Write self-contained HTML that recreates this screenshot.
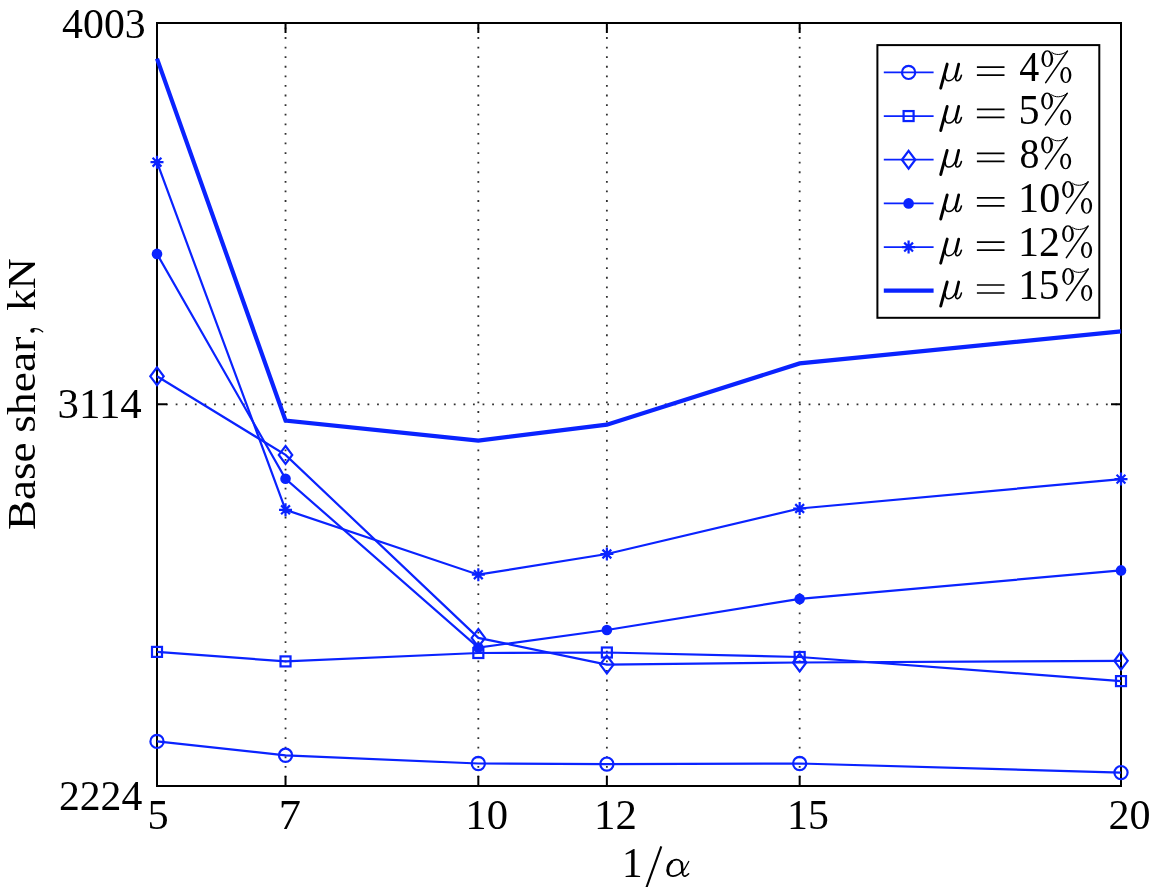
<!DOCTYPE html><html><head><meta charset="utf-8"><style>html,body{margin:0;padding:0;background:#fff;width:1152px;height:887px;overflow:hidden}svg{display:block;will-change:transform}text{font-family:"Liberation Serif",serif;fill:#000}</style></head><body>
<svg width="1152" height="887" viewBox="0 0 1152 887">
<rect x="0" y="0" width="1152" height="887" fill="#fff"/>
<g stroke="#303030" stroke-width="1.8" stroke-dasharray="1.8 7.79" fill="none"><line x1="285.53" y1="786.9" x2="285.53" y2="23.0"/><line x1="478.33" y1="786.9" x2="478.33" y2="23.0"/><line x1="606.87" y1="786.9" x2="606.87" y2="23.0"/><line x1="799.67" y1="786.9" x2="799.67" y2="23.0"/><line x1="156.5" y1="404.3" x2="1121.0" y2="404.3"/></g>
<path d="M285.53 786.0V776.0M285.53 23.0V33.0M478.33 786.0V776.0M478.33 23.0V33.0M606.87 786.0V776.0M606.87 23.0V33.0M799.67 786.0V776.0M799.67 23.0V33.0M157.0 404.3H167.0M1121.0 404.3H1111.0" stroke="#000" stroke-width="2" fill="none"/>
<rect x="157.0" y="23.0" width="964.0" height="763.0" fill="none" stroke="#000" stroke-width="2"/>
<polyline points="157,741.4 285.53,755.3 478.33,763.5 606.87,764.1 799.67,763.5 1121,772.6" fill="none" stroke="#0a23ff" stroke-width="2.2" stroke-linejoin="miter"/>
<circle cx="157" cy="741.4" r="6.6" fill="none" stroke="#0a23ff" stroke-width="2.2"/>
<circle cx="285.53" cy="755.3" r="6.6" fill="none" stroke="#0a23ff" stroke-width="2.2"/>
<circle cx="478.33" cy="763.5" r="6.6" fill="none" stroke="#0a23ff" stroke-width="2.2"/>
<circle cx="606.87" cy="764.1" r="6.6" fill="none" stroke="#0a23ff" stroke-width="2.2"/>
<circle cx="799.67" cy="763.5" r="6.6" fill="none" stroke="#0a23ff" stroke-width="2.2"/>
<circle cx="1121" cy="772.6" r="6.6" fill="none" stroke="#0a23ff" stroke-width="2.2"/>
<polyline points="157,651.9 285.53,661.4 478.33,653 606.87,652.5 799.67,657 1121,681.1" fill="none" stroke="#0a23ff" stroke-width="2.2" stroke-linejoin="miter"/>
<rect x="152" y="646.9" width="10.0" height="10.0" fill="none" stroke="#0a23ff" stroke-width="2.2"/>
<rect x="280.53" y="656.4" width="10.0" height="10.0" fill="none" stroke="#0a23ff" stroke-width="2.2"/>
<rect x="473.33" y="648" width="10.0" height="10.0" fill="none" stroke="#0a23ff" stroke-width="2.2"/>
<rect x="601.87" y="647.5" width="10.0" height="10.0" fill="none" stroke="#0a23ff" stroke-width="2.2"/>
<rect x="794.67" y="652" width="10.0" height="10.0" fill="none" stroke="#0a23ff" stroke-width="2.2"/>
<rect x="1116" y="676.1" width="10.0" height="10.0" fill="none" stroke="#0a23ff" stroke-width="2.2"/>
<polyline points="157,376.3 285.53,454.9 478.33,637.9 606.87,664.6 799.67,662.5 1121,660.8" fill="none" stroke="#0a23ff" stroke-width="2.2" stroke-linejoin="miter"/>
<polygon points="157,367.4 163.7,376.3 157,385.2 150.3,376.3" fill="none" stroke="#0a23ff" stroke-width="2.2"/>
<polygon points="285.53,446 292.23,454.9 285.53,463.8 278.83,454.9" fill="none" stroke="#0a23ff" stroke-width="2.2"/>
<polygon points="478.33,629 485.03,637.9 478.33,646.8 471.63,637.9" fill="none" stroke="#0a23ff" stroke-width="2.2"/>
<polygon points="606.87,655.7 613.57,664.6 606.87,673.5 600.17,664.6" fill="none" stroke="#0a23ff" stroke-width="2.2"/>
<polygon points="799.67,653.6 806.37,662.5 799.67,671.4 792.97,662.5" fill="none" stroke="#0a23ff" stroke-width="2.2"/>
<polygon points="1121,651.9 1127.7,660.8 1121,669.7 1114.3,660.8" fill="none" stroke="#0a23ff" stroke-width="2.2"/>
<polyline points="157,253.9 285.53,478.8 478.33,647.6 606.87,630 799.67,598.9 1121,570.4" fill="none" stroke="#0a23ff" stroke-width="2.2" stroke-linejoin="miter"/>
<circle cx="157" cy="253.9" r="5.3" fill="#0a23ff"/>
<circle cx="285.53" cy="478.8" r="5.3" fill="#0a23ff"/>
<circle cx="478.33" cy="647.6" r="5.3" fill="#0a23ff"/>
<circle cx="606.87" cy="630" r="5.3" fill="#0a23ff"/>
<circle cx="799.67" cy="598.9" r="5.3" fill="#0a23ff"/>
<circle cx="1121" cy="570.4" r="5.3" fill="#0a23ff"/>
<polyline points="157,162.2 285.53,509.8 478.33,574.7 606.87,554 799.67,508.5 1121,479.1" fill="none" stroke="#0a23ff" stroke-width="2.2" stroke-linejoin="miter"/>
<path d="M150.5 162.2H163.5M157 155.7V168.7M152.6 157.8L161.4 166.6M152.6 166.6L161.4 157.8" fill="none" stroke="#0a23ff" stroke-width="2.2"/>
<path d="M279.03 509.8H292.03M285.53 503.3V516.3M281.13 505.4L289.93 514.2M281.13 514.2L289.93 505.4" fill="none" stroke="#0a23ff" stroke-width="2.2"/>
<path d="M471.83 574.7H484.83M478.33 568.2V581.2M473.93 570.3L482.73 579.1M473.93 579.1L482.73 570.3" fill="none" stroke="#0a23ff" stroke-width="2.2"/>
<path d="M600.37 554H613.37M606.87 547.5V560.5M602.47 549.6L611.27 558.4M602.47 558.4L611.27 549.6" fill="none" stroke="#0a23ff" stroke-width="2.2"/>
<path d="M793.17 508.5H806.17M799.67 502V515M795.27 504.1L804.07 512.9M795.27 512.9L804.07 504.1" fill="none" stroke="#0a23ff" stroke-width="2.2"/>
<path d="M1114.5 479.1H1127.5M1121 472.6V485.6M1116.6 474.7L1125.4 483.5M1116.6 483.5L1125.4 474.7" fill="none" stroke="#0a23ff" stroke-width="2.2"/>
<polyline points="157,58.6 285.53,420.5 478.33,440.6 606.87,424.7 799.67,363.4 1121,331.3" fill="none" stroke="#0a23ff" stroke-width="4.2" stroke-linejoin="miter"/>






<rect x="877.4" y="45.1" width="221.9" height="272.7" fill="#fff" stroke="#000" stroke-width="2"/>
<line x1="883.8" y1="72.4" x2="933.6" y2="72.4" stroke="#0a23ff" stroke-width="1.7"/>
<circle cx="908.6" cy="72.4" r="6.6" fill="none" stroke="#0a23ff" stroke-width="2.2"/>
<g transform="translate(0 0.00)" fill="none" stroke="#000" stroke-linecap="round"><path d="M947.2 64.1L940.7 88.2" stroke-width="2.9"/><path d="M945.3 75.8C944.9 79.6 946.8 80.9 948.9 80.8C951.2 80.7 953.4 79 955 76" stroke-width="1.5"/><path d="M958.7 64.1L955.8 76.2" stroke-width="2.8"/><path d="M955.8 76.2C955.2 79.2 955.9 80.8 957.5 80.7C959.4 80.5 960.8 77.6 961.4 75.2" stroke-width="1.6"/></g>
<path d="M976.9 67.10H1004.5M976.9 75.10H1004.5" stroke="#000" stroke-width="1.6"/>
<text transform="translate(1019.25 81.20) scale(1.0000 1.0400)" font-size="40">4</text>
<g transform="translate(1041.40 81.20)"><path fill="#000" fill-rule="evenodd" d="M0.00 -22.55a5.9 8.45 0 1 0 11.80 0a5.9 8.45 0 1 0 -11.80 0ZM2.50 -22.40a3.4 7.35 0 1 0 6.80 0a3.4 7.35 0 1 0 -6.80 0ZM18.90 -6.15a5.55 7.95 0 1 0 11.10 0a5.55 7.95 0 1 0 -11.10 0ZM21.30 -6.00a3.15 6.85 0 1 0 6.30 0a3.15 6.85 0 1 0 -6.30 0Z"/><path d="M26 -30.1L4.3 1.4" stroke="#000" stroke-width="1.6" stroke-linecap="round" fill="none"/><path d="M10.2 -29C13.5 -25.9 20.5 -25.6 26 -30.2" stroke="#000" stroke-width="1.0" fill="none"/></g>
<line x1="883.8" y1="116.06" x2="933.6" y2="116.06" stroke="#0a23ff" stroke-width="1.7"/>
<rect x="903.6" y="111.06" width="10.0" height="10.0" fill="none" stroke="#0a23ff" stroke-width="2.2"/>
<g transform="translate(0 42.30)" fill="none" stroke="#000" stroke-linecap="round"><path d="M947.2 64.1L940.7 88.2" stroke-width="2.9"/><path d="M945.3 75.8C944.9 79.6 946.8 80.9 948.9 80.8C951.2 80.7 953.4 79 955 76" stroke-width="1.5"/><path d="M958.7 64.1L955.8 76.2" stroke-width="2.8"/><path d="M955.8 76.2C955.2 79.2 955.9 80.8 957.5 80.7C959.4 80.5 960.8 77.6 961.4 75.2" stroke-width="1.6"/></g>
<path d="M976.9 109.40H1004.5M976.9 117.40H1004.5" stroke="#000" stroke-width="1.6"/>
<text transform="translate(1018.53 123.54) scale(1.0523 1.0528)" font-size="40">5</text>
<g transform="translate(1041.20 123.50)"><path fill="#000" fill-rule="evenodd" d="M0.00 -22.55a5.9 8.45 0 1 0 11.80 0a5.9 8.45 0 1 0 -11.80 0ZM2.50 -22.40a3.4 7.35 0 1 0 6.80 0a3.4 7.35 0 1 0 -6.80 0ZM18.90 -6.15a5.55 7.95 0 1 0 11.10 0a5.55 7.95 0 1 0 -11.10 0ZM21.30 -6.00a3.15 6.85 0 1 0 6.30 0a3.15 6.85 0 1 0 -6.30 0Z"/><path d="M26 -30.1L4.3 1.4" stroke="#000" stroke-width="1.6" stroke-linecap="round" fill="none"/><path d="M10.2 -29C13.5 -25.9 20.5 -25.6 26 -30.2" stroke="#000" stroke-width="1.0" fill="none"/></g>
<line x1="883.8" y1="159.72" x2="933.6" y2="159.72" stroke="#0a23ff" stroke-width="1.7"/>
<polygon points="908.6,150.82 915.3,159.72 908.6,168.62 901.9,159.72" fill="none" stroke="#0a23ff" stroke-width="2.2"/>
<g transform="translate(0 86.30)" fill="none" stroke="#000" stroke-linecap="round"><path d="M947.2 64.1L940.7 88.2" stroke-width="2.9"/><path d="M945.3 75.8C944.9 79.6 946.8 80.9 948.9 80.8C951.2 80.7 953.4 79 955 76" stroke-width="1.5"/><path d="M958.7 64.1L955.8 76.2" stroke-width="2.8"/><path d="M955.8 76.2C955.2 79.2 955.9 80.8 957.5 80.7C959.4 80.5 960.8 77.6 961.4 75.2" stroke-width="1.6"/></g>
<path d="M976.9 153.40H1004.5M976.9 161.40H1004.5" stroke="#000" stroke-width="1.6"/>
<text transform="translate(1019.41 167.64) scale(0.9941 1.0542)" font-size="40">8</text>
<g transform="translate(1041.20 167.50)"><path fill="#000" fill-rule="evenodd" d="M0.00 -22.55a5.9 8.45 0 1 0 11.80 0a5.9 8.45 0 1 0 -11.80 0ZM2.50 -22.40a3.4 7.35 0 1 0 6.80 0a3.4 7.35 0 1 0 -6.80 0ZM18.90 -6.15a5.55 7.95 0 1 0 11.10 0a5.55 7.95 0 1 0 -11.10 0ZM21.30 -6.00a3.15 6.85 0 1 0 6.30 0a3.15 6.85 0 1 0 -6.30 0Z"/><path d="M26 -30.1L4.3 1.4" stroke="#000" stroke-width="1.6" stroke-linecap="round" fill="none"/><path d="M10.2 -29C13.5 -25.9 20.5 -25.6 26 -30.2" stroke="#000" stroke-width="1.0" fill="none"/></g>
<line x1="883.8" y1="203.38" x2="933.6" y2="203.38" stroke="#0a23ff" stroke-width="1.7"/>
<circle cx="908.6" cy="203.38" r="5.3" fill="#0a23ff"/>
<g transform="translate(0 130.80)" fill="none" stroke="#000" stroke-linecap="round"><path d="M947.2 64.1L940.7 88.2" stroke-width="2.9"/><path d="M945.3 75.8C944.9 79.6 946.8 80.9 948.9 80.8C951.2 80.7 953.4 79 955 76" stroke-width="1.5"/><path d="M958.7 64.1L955.8 76.2" stroke-width="2.8"/><path d="M955.8 76.2C955.2 79.2 955.9 80.8 957.5 80.7C959.4 80.5 960.8 77.6 961.4 75.2" stroke-width="1.6"/></g>
<path d="M976.9 197.90H1004.5M976.9 205.90H1004.5" stroke="#000" stroke-width="1.6"/>
<text transform="translate(1018.00 211.74) scale(1.0571 1.0505)" font-size="40">10</text>
<g transform="translate(1062.10 212.00)"><path fill="#000" fill-rule="evenodd" d="M0.00 -22.55a5.9 8.45 0 1 0 11.80 0a5.9 8.45 0 1 0 -11.80 0ZM2.50 -22.40a3.4 7.35 0 1 0 6.80 0a3.4 7.35 0 1 0 -6.80 0ZM18.90 -6.15a5.55 7.95 0 1 0 11.10 0a5.55 7.95 0 1 0 -11.10 0ZM21.30 -6.00a3.15 6.85 0 1 0 6.30 0a3.15 6.85 0 1 0 -6.30 0Z"/><path d="M26 -30.1L4.3 1.4" stroke="#000" stroke-width="1.6" stroke-linecap="round" fill="none"/><path d="M10.2 -29C13.5 -25.9 20.5 -25.6 26 -30.2" stroke="#000" stroke-width="1.0" fill="none"/></g>
<line x1="883.8" y1="247.04" x2="933.6" y2="247.04" stroke="#0a23ff" stroke-width="1.7"/>
<path d="M902.1 247.04H915.1M908.6 240.54V253.54M904.2 242.64L913 251.44M904.2 251.44L913 242.64" fill="none" stroke="#0a23ff" stroke-width="2.2"/>
<g transform="translate(0 175.00)" fill="none" stroke="#000" stroke-linecap="round"><path d="M947.2 64.1L940.7 88.2" stroke-width="2.9"/><path d="M945.3 75.8C944.9 79.6 946.8 80.9 948.9 80.8C951.2 80.7 953.4 79 955 76" stroke-width="1.5"/><path d="M958.7 64.1L955.8 76.2" stroke-width="2.8"/><path d="M955.8 76.2C955.2 79.2 955.9 80.8 957.5 80.7C959.4 80.5 960.8 77.6 961.4 75.2" stroke-width="1.6"/></g>
<path d="M976.9 242.10H1004.5M976.9 250.10H1004.5" stroke="#000" stroke-width="1.6"/>
<text transform="translate(1018.02 256.20) scale(1.0511 1.0717)" font-size="40">12</text>
<g transform="translate(1062.10 256.20)"><path fill="#000" fill-rule="evenodd" d="M0.00 -22.55a5.9 8.45 0 1 0 11.80 0a5.9 8.45 0 1 0 -11.80 0ZM2.50 -22.40a3.4 7.35 0 1 0 6.80 0a3.4 7.35 0 1 0 -6.80 0ZM18.90 -6.15a5.55 7.95 0 1 0 11.10 0a5.55 7.95 0 1 0 -11.10 0ZM21.30 -6.00a3.15 6.85 0 1 0 6.30 0a3.15 6.85 0 1 0 -6.30 0Z"/><path d="M26 -30.1L4.3 1.4" stroke="#000" stroke-width="1.6" stroke-linecap="round" fill="none"/><path d="M10.2 -29C13.5 -25.9 20.5 -25.6 26 -30.2" stroke="#000" stroke-width="1.0" fill="none"/></g>
<line x1="883.8" y1="290.7" x2="933.6" y2="290.7" stroke="#0a23ff" stroke-width="4.2"/>

<g transform="translate(0 217.90)" fill="none" stroke="#000" stroke-linecap="round"><path d="M947.2 64.1L940.7 88.2" stroke-width="2.9"/><path d="M945.3 75.8C944.9 79.6 946.8 80.9 948.9 80.8C951.2 80.7 953.4 79 955 76" stroke-width="1.5"/><path d="M958.7 64.1L955.8 76.2" stroke-width="2.8"/><path d="M955.8 76.2C955.2 79.2 955.9 80.8 957.5 80.7C959.4 80.5 960.8 77.6 961.4 75.2" stroke-width="1.6"/></g>
<path d="M976.9 285.00H1004.5M976.9 293.00H1004.5" stroke="#000" stroke-width="1.6"/>
<text transform="translate(1018.19 298.83) scale(1.0314 1.0717)" font-size="40">15</text>
<g transform="translate(1062.20 299.10)"><path fill="#000" fill-rule="evenodd" d="M0.00 -22.55a5.9 8.45 0 1 0 11.80 0a5.9 8.45 0 1 0 -11.80 0ZM2.50 -22.40a3.4 7.35 0 1 0 6.80 0a3.4 7.35 0 1 0 -6.80 0ZM18.90 -6.15a5.55 7.95 0 1 0 11.10 0a5.55 7.95 0 1 0 -11.10 0ZM21.30 -6.00a3.15 6.85 0 1 0 6.30 0a3.15 6.85 0 1 0 -6.30 0Z"/><path d="M26 -30.1L4.3 1.4" stroke="#000" stroke-width="1.6" stroke-linecap="round" fill="none"/><path d="M10.2 -29C13.5 -25.9 20.5 -25.6 26 -30.2" stroke="#000" stroke-width="1.0" fill="none"/></g>
<text transform="translate(62.12 37.93) scale(1.0444 1.0710)" font-size="40">4003</text>
<text transform="translate(57.60 418.13) scale(1.0726 1.0766)" font-size="40">3114</text>
<text transform="translate(58.88 810.10) scale(1.0426 1.0792)" font-size="40">2224</text>
<text transform="translate(147.52 828.63) scale(1.0585 1.0642)" font-size="40">5</text>
<text transform="translate(278.64 828.60) scale(1.1125 1.0552)" font-size="40">7</text>
<text transform="translate(465.37 828.84) scale(1.0657 1.0542)" font-size="40">10</text>
<text transform="translate(594.05 829.10) scale(1.0715 1.0642)" font-size="40">12</text>
<text transform="translate(787.04 828.83) scale(1.0457 1.0642)" font-size="40">15</text>
<text transform="translate(1108.46 828.84) scale(1.0531 1.0542)" font-size="40">20</text>
<text transform="translate(622.00 877.10) scale(1.0286 1.0743)" font-size="40">1</text>
<line x1="661.3" y1="846.3" x2="645.9" y2="889" stroke="#000" stroke-width="2.1"/>
<g fill="none" stroke="#000" stroke-linecap="round"><path d="M683.6 869.6C680.4 873.9 677 876.2 672.8 876.1C669.3 876 667.3 873.6 667.4 870.3C667.6 864.9 671.6 859.5 676.6 859.6C679.8 859.7 681.5 862 681.8 865.5" stroke-width="1.6"/><path d="M668.6 873.8C666.9 870 668 864.6 671.6 861.8" stroke-width="2.8"/><path d="M681.4 861.8C682.3 865 682.4 869.5 682.5 872.6C682.6 875.3 683.7 876.3 685.2 876.1C686.5 875.9 687.6 874.9 688.6 873.8" stroke-width="1.6"/><path d="M681.9 863.5L682.4 872.5" stroke-width="2.4"/><path d="M688.8 861.4L684.2 869.6" stroke-width="1.2"/></g>
<text transform="translate(34.7 530.00) rotate(-90) scale(1.1240 0.9964)" font-size="40">Base</text>
<text transform="translate(34.7 432.69) rotate(-90) scale(1.1380 0.9964)" font-size="40">shear</text>
<circle cx="32.5" cy="330.5" r="2.2" fill="#000"/><path d="M33.6 328.6C37.2 328.4 40.6 329.8 42.7 331.8" stroke="#000" stroke-width="1.3" fill="none" stroke-linecap="round"/>
<text transform="translate(34.7 310.80) rotate(-90) scale(1.0730 0.9964)" font-size="40">kN</text>
</svg></body></html>
